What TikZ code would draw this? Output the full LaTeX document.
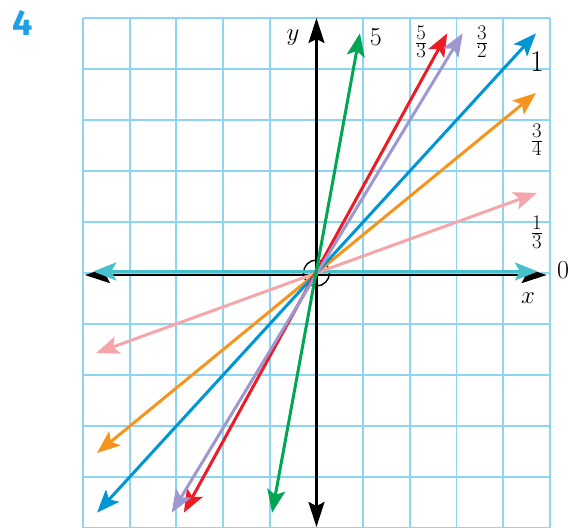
\documentclass[tikz,border=0pt]{standalone}
\usepackage{fontspec}
\newfontfamily\numfont{Fira Sans}
\usetikzlibrary{arrows.meta}
\definecolor{gridc}{RGB}{140,214,244}
\definecolor{numc}{RGB}{30,160,226}
\definecolor{cgreen}{RGB}{0,166,81}
\definecolor{cred}{RGB}{237,28,36}
\definecolor{cpurple}{RGB}{158,152,210}
\definecolor{cblue}{RGB}{0,150,214}
\definecolor{corange}{RGB}{247,148,29}
\definecolor{cpink}{RGB}{244,166,170}
\definecolor{cteal}{RGB}{72,192,204}
\tikzset{
  gridline/.style={draw=gridc, line width=1.8pt},
  axisline/.style={draw=black, line width=2.4pt, {Stealth[length=25pt,width=16pt,inset=4pt]}-{Stealth[length=25pt,width=16pt,inset=4pt]}},
  graphline/.style={line width=3pt, {Stealth[length=23pt,width=18pt,inset=5pt]}-{Stealth[length=23pt,width=18pt,inset=5pt]}},
  lab/.style={inner sep=0pt, font=\fontsize{26}{30}\selectfont},
  flab/.style={inner sep=0pt, font=\fontsize{24.88}{30}\selectfont},
}
\begin{document}
\begin{tikzpicture}[x=46.7pt, y=51pt]
\useasboundingbox (-6.777,-5.0) rectangle (5.45,5.353);
% grid
\foreach \i in {-5,...,5} {
  \draw[gridline] (\i,-5) -- (\i,5);
  \draw[gridline] (-5,\i) -- (5,\i);
}
% problem number
\node[inner sep=0pt, text=numc, font=\numfont\bfseries\fontsize{36}{40}\selectfont] (num) at (-6.285,4.90) {4};
% origin circle
\node[draw=black, line width=1.4pt, circle, minimum size=26pt, inner sep=0pt] (o) at (0,0) {};
% axes
\coordinate (xl) at (-4.96,-0.04);
\coordinate (xr) at (4.93,-0.04);
\coordinate (yb) at (0,-4.98);
\coordinate (yt) at (0,5.0);
\draw[axisline] (xl) -- (xr);
\draw[axisline] (yb) -- (yt);
% graph lines
\coordinate (t0a) at (-4.78,0.03);  \coordinate (t0b) at (4.74,0.03);
\coordinate (pka) at (-4.72,-1.57); \coordinate (pkb) at (4.72,1.57);
\coordinate (ora) at (-4.7,-3.53);  \coordinate (orb) at (4.7,3.53);
\coordinate (bla) at (-4.7,-4.7);   \coordinate (blb) at (4.7,4.7);
\coordinate (pua) at (-3.1,-4.7);   \coordinate (pub) at (3.13,4.7);
\coordinate (rea) at (-2.84,-4.7);  \coordinate (reb) at (2.8,4.7);
\coordinate (gra) at (-0.95,-4.7);  \coordinate (grb) at (0.93,4.7);
\draw[graphline, cteal] (t0a) -- (t0b);
\draw[graphline, cpink] (pka) -- (pkb);
\draw[graphline, corange] (ora) -- (orb);
\draw[graphline, cblue] (bla) -- (blb);
\draw[graphline, cred] (rea) -- (reb);
\draw[graphline, cpurple] (pua) -- (pub);
\draw[graphline, cgreen] (gra) -- (grb);
% labels
\node[lab] (ly) at (-0.50,4.61) {$y$};
\node[lab] (lx) at (4.53,-0.49) {$x$};
\node[lab] (l5) at (1.27,4.63) {5};
\node[flab] (l53) at (2.24,4.53) {$\frac{5}{3}$};
\node[flab] (l32) at (3.54,4.53) {$\frac{3}{2}$};
\node[lab, font=\fontsize{30}{34}\selectfont] (l1) at (4.72,4.14) {1};
\node[flab] (l34) at (4.72,2.61) {$\frac{3}{4}$};
\node[flab] (l13) at (4.72,0.80) {$\frac{1}{3}$};
\node[lab] (l0) at (5.28,0.06) {0};
\end{tikzpicture}
\end{document}
